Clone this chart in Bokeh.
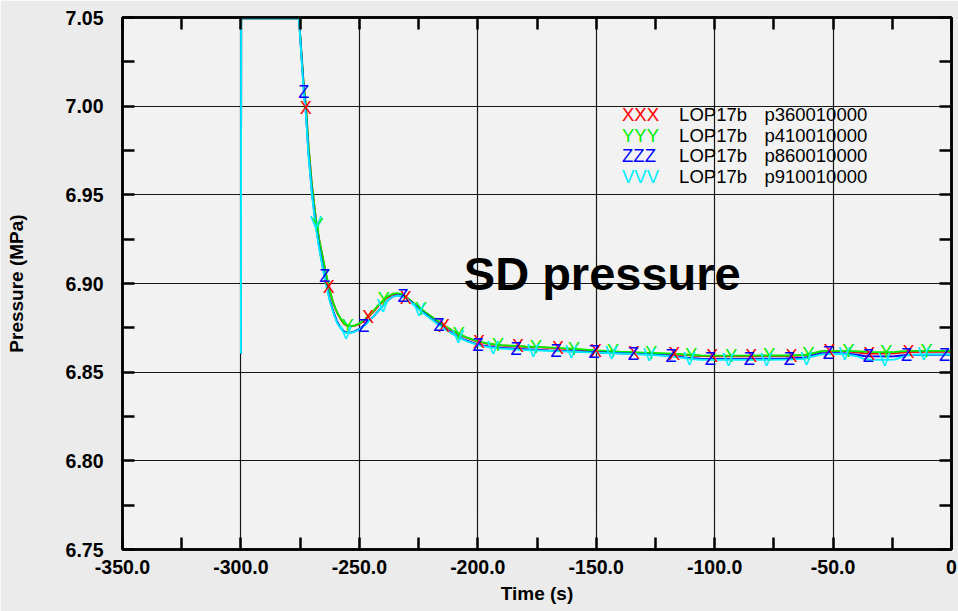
from bokeh.plotting import figure
from bokeh.models import (LinearAxis, FixedTicker, CustomJSTickFormatter,
                          ColumnDataSource, Label)
from bokeh.core.properties import value
from bokeh.embed import file_html
from bokeh.resources import INLINE

# ---------------- data ----------------
time_s = [-300.0, -299.9, -275.5, -273.5, -272.5, -271.5, -270.0, -268.5, -267.0, -265.5,
          -264.0, -262.5, -261.0, -259.5, -258.0, -256.5, -255.0, -253.5, -252.0, -250.0,
          -248.0, -246.0, -244.0, -242.0, -240.0, -238.0, -236.0, -234.0, -232.0, -230.0,
          -228.0, -226.0, -224.0, -222.0, -220.0, -217.0, -214.0, -211.0, -208.0, -205.0,
          -202.0, -199.0, -195.0, -190.0, -180.0, -170.0, -160.0, -150.0, -140.0, -130.0,
          -120.0, -112.0, -106.0, -100.0, -90.0, -80.0, -70.0, -62.0, -58.0, -55.0,
          -50.0, -45.0, -40.0, -37.0, -34.0, -30.0, -24.0, -21.0, -18.0, -10.0, 0.0]

p_360 = [6.8605, 7.0495, 7.0495, 7.012, 6.999, 6.978, 6.955, 6.938, 6.925, 6.915,
         6.905, 6.896, 6.889, 6.8838, 6.8802, 6.8772, 6.8760, 6.8758, 6.8761, 6.8772,
         6.8790, 6.8814, 6.8842, 6.8872, 6.8899, 6.8922, 6.8936, 6.8940, 6.8935, 6.8920,
         6.8898, 6.8876, 6.8855, 6.8835, 6.8816, 6.8788, 6.8760, 6.8736, 6.8714, 6.8696,
         6.8681, 6.8669, 6.8657, 6.8650, 6.8643, 6.8637, 6.8629, 6.8619, 6.8612, 6.8607,
         6.8602, 6.8597, 6.8591, 6.8590, 6.8590, 6.8591, 6.8591, 6.8595, 6.8606, 6.8616,
         6.8618, 6.8617, 6.8612, 6.8607, 6.8605, 6.8605, 6.8606, 6.8610, 6.8614, 6.8615, 6.8615]

p_410 = [6.8605, 7.0495, 7.0495, 7.012, 6.999, 6.978, 6.955, 6.938, 6.925, 6.915,
         6.905, 6.896, 6.889, 6.8840, 6.8805, 6.8775, 6.8763, 6.8760, 6.8763, 6.8775,
         6.8793, 6.8818, 6.8847, 6.8878, 6.8905, 6.8928, 6.8942, 6.8946, 6.8940, 6.8922,
         6.8900, 6.8878, 6.8857, 6.8837, 6.8818, 6.8790, 6.8762, 6.8738, 6.8716, 6.8698,
         6.8683, 6.8671, 6.8660, 6.8652, 6.8645, 6.8640, 6.8632, 6.8622, 6.8615, 6.8610,
         6.8605, 6.8600, 6.8594, 6.8593, 6.8593, 6.8594, 6.8594, 6.8597, 6.8608, 6.8618,
         6.8620, 6.8620, 6.8618, 6.8616, 6.8614, 6.8613, 6.8614, 6.8617, 6.8620, 6.8620, 6.8620]

p_860 = [6.8605, 7.0495, 7.0495, 7.010, 6.995, 6.974, 6.951, 6.934, 6.921, 6.910,
         6.900, 6.891, 6.8843, 6.8788, 6.8752, 6.8730, 6.8723, 6.8724, 6.8730, 6.8745,
         6.8764, 6.8788, 6.8815, 6.8845, 6.8875, 6.8904, 6.8925, 6.8934, 6.8930, 6.8915,
         6.8894, 6.8870, 6.8847, 6.8826, 6.8806, 6.8776, 6.8749, 6.8722, 6.8699, 6.8680,
         6.8665, 6.8653, 6.8644, 6.8637, 6.8629, 6.8623, 6.8618, 6.8612, 6.8607, 6.8602,
         6.8594, 6.8582, 6.8576, 6.8575, 6.8575, 6.8576, 6.8577, 6.8581, 6.8596, 6.8606,
         6.8608, 6.8606, 6.8598, 6.8591, 6.8589, 6.8589, 6.8590, 6.8594, 6.8597, 6.8598, 6.8598]

p_910 = [6.8605, 7.0495, 7.0495, 7.008, 6.994, 6.973, 6.950, 6.933, 6.920, 6.909,
         6.899, 6.890, 6.8835, 6.8780, 6.8747, 6.8725, 6.8720, 6.8722, 6.8728, 6.8742,
         6.8762, 6.8787, 6.8815, 6.8845, 6.8875, 6.8905, 6.8925, 6.8932, 6.8928, 6.8912,
         6.8890, 6.8866, 6.8843, 6.8822, 6.8802, 6.8772, 6.8745, 6.8718, 6.8695, 6.8677,
         6.8662, 6.8650, 6.8640, 6.8633, 6.8625, 6.8620, 6.8615, 6.8610, 6.8605, 6.8600,
         6.8592, 6.8578, 6.8570, 6.8570, 6.8570, 6.8570, 6.8571, 6.8575, 6.8590, 6.8600,
         6.8604, 6.8602, 6.8590, 6.8575, 6.8570, 6.8570, 6.8571, 6.8585, 6.8598, 6.8600, 6.8600]

# marker positions (letter symbols)
mk_t_360 = [-272.6, -262.9, -246.4, -230.4, -214.3, -199.5, -183.0, -166.1, -150.1,
            -134.0, -117.1, -101.0, -84.5, -67.6, -51.6, -34.7, -18.2]
mk_p_360 = [6.999, 6.898, 6.881, 6.892, 6.876, 6.867, 6.8645, 6.8635, 6.8619,
            6.8610, 6.8601, 6.8590, 6.8590, 6.8591, 6.8618, 6.8605, 6.8614]

mk_t_410 = [-267.6, -254.9, -239.7, -224.0, -208.0, -191.5, -175.4, -159.4, -142.9,
            -126.8, -109.9, -93.0, -76.9, -60.4, -43.5, -27.5, -10.6]
mk_p_410 = [6.933, 6.8763, 6.891, 6.8857, 6.8716, 6.8654, 6.8642, 6.8632, 6.8617,
            6.8608, 6.8598, 6.8593, 6.8594, 6.8602, 6.8619, 6.8613, 6.8620]

mk_t_860 = [-273.5, -264.6, -248.1, -231.6, -216.4, -199.9, -183.9, -167.0, -150.9,
            -134.4, -118.4, -101.9, -85.4, -68.5, -52.0, -35.1, -19.0, -3.0]
mk_p_860 = [7.008, 6.904, 6.876, 6.8928, 6.8765, 6.8655, 6.8628, 6.8619, 6.8612,
            6.8603, 6.8592, 6.8575, 6.8575, 6.8577, 6.8607, 6.8589, 6.8596, 6.8598]

mk_t_910 = [-268.4, -255.7, -240.1, -224.9, -208.4, -193.6, -176.7, -160.6, -143.7,
            -127.7, -110.7, -94.3, -78.2, -61.3, -45.2, -28.3, -11.8]
mk_p_910 = [6.934, 6.8721, 6.8874, 6.8853, 6.8698, 6.8637, 6.8621, 6.8615, 6.8607,
            6.8599, 6.8577, 6.8570, 6.8570, 6.8576, 6.8602, 6.8570, 6.8600]

series_symbols = ["X", "Y", "Z", "V"]
legend_symbols = ["XXX", "YYY", "ZZZ", "VVV"]
legend_case = ["LOP17b", "LOP17b", "LOP17b", "LOP17b"]
legend_probe = ["p360010000", "p410010000", "p860010000", "p910010000"]
series_colors = ["#ff0000", "#00ee00", "#0000ff", "#00eeff"]

x_major_ticks = [-350, -300, -250, -200, -150, -100, -50, 0]
x_minor_ticks = [-325, -275, -225, -175, -125, -75, -25]
y_major_ticks = [6.75, 6.80, 6.85, 6.90, 6.95, 7.00, 7.05]
y_minor_ticks = [6.775, 6.825, 6.875, 6.925, 6.975, 7.025]
chart_title = "SD pressure"

# ---------------- figure ----------------
FONT = "Liberation Sans"
p = figure(width=958, height=611, x_range=(-350, 0), y_range=(6.75, 7.05),
           output_backend="svg", toolbar_location=None,
           min_border_left=122, min_border_right=7, min_border_top=17, min_border_bottom=62)
p.border_fill_color = "#ebebeb"
p.background_fill_color = "#f2f2f2"
p.outline_line_color = "black"
p.outline_line_width = 2.5

xt = FixedTicker(ticks=x_major_ticks, minor_ticks=x_minor_ticks)
yt = FixedTicker(ticks=y_major_ticks, minor_ticks=y_minor_ticks)
xfmt = CustomJSTickFormatter(code="return Math.abs(tick) < 1e-9 ? '0' : tick.toFixed(1);")
yfmt = CustomJSTickFormatter(code="return tick.toFixed(2);")


def style_axis(ax, labels=True):
    ax.axis_line_color = "black"
    ax.axis_line_width = 2.5
    ax.major_tick_in = 12
    ax.major_tick_out = 0
    ax.minor_tick_in = 12
    ax.minor_tick_out = 0
    ax.major_tick_line_color = "black"
    ax.major_tick_line_width = 2.5
    ax.minor_tick_line_color = "black"
    ax.minor_tick_line_width = 2.5
    ax.major_label_text_font = FONT
    ax.major_label_text_font_style = "bold"
    ax.major_label_text_font_size = "19.5px"
    ax.major_label_text_color = "black"
    ax.axis_label_text_font = FONT
    ax.axis_label_text_font_style = "bold"
    ax.axis_label_text_font_size = "19px"
    ax.axis_label_text_color = "black"
    if not labels:
        ax.major_label_text_font_size = "0px"
        ax.major_label_standoff = 0
        ax.axis_label = None


bx = p.xaxis[0]
bx.ticker = xt
bx.formatter = xfmt
bx.axis_label = "Time (s)"
style_axis(bx)
bx.major_label_standoff = 10
bx.axis_label_standoff = 6

ly = p.yaxis[0]
ly.ticker = yt
ly.formatter = yfmt
ly.axis_label = "Pressure (MPa)"
style_axis(ly)
ly.major_label_standoff = 19
ly.axis_label_standoff = 36

tx = LinearAxis(ticker=xt)
style_axis(tx, labels=False)
p.add_layout(tx, "above")
ry = LinearAxis(ticker=yt)
style_axis(ry, labels=False)
p.add_layout(ry, "right")

p.xgrid.ticker = xt
p.ygrid.ticker = yt
for g in (p.xgrid, p.ygrid):
    g.grid_line_color = "black"
    g.grid_line_width = 1.2
    g.grid_line_alpha = 0.9

# ---------------- curves ----------------
curves = [p_360, p_410, p_860, p_910]
markers = [(mk_t_360, mk_p_360), (mk_t_410, mk_p_410), (mk_t_860, mk_p_860), (mk_t_910, mk_p_910)]

for vals, col in zip(curves, series_colors):
    p.line(time_s, vals, line_color=col, line_width=1.9)

for (mt, mp), sym, col in zip(markers, series_symbols, series_colors):
    src = ColumnDataSource(dict(x=mt, y=mp, t=[sym] * len(mt)))
    p.text(x="x", y="y", text="t", source=src, text_color=col,
           text_font=value(FONT), text_font_size=value("18px"),
           text_align="center", text_baseline="middle")

# ---------------- legend (text rows) ----------------
leg_x = [-139.1, -115.0, -79.0]
leg_y0 = 6.9954
leg_dy = 0.01173
rows_y = [leg_y0 - i * leg_dy for i in range(len(legend_symbols))]
p.text(x=[leg_x[0]] * 4, y=rows_y, text=legend_symbols, text_color=series_colors,
       text_font=value(FONT), text_font_size=value("18.5px"), text_baseline="alphabetic")
p.text(x=[leg_x[1]] * 4, y=rows_y, text=legend_case, text_color="black",
       text_font=value(FONT), text_font_size=value("18.5px"), text_baseline="alphabetic")
p.text(x=[leg_x[2]] * 4, y=rows_y, text=legend_probe, text_color="black",
       text_font=value(FONT), text_font_size=value("18.5px"), text_baseline="alphabetic")

p.add_layout(Label(x=-205.9, y=6.9056, text=chart_title, text_font=FONT,
                   text_font_size="47px", text_font_style="bold", text_color="black",
                   text_baseline="alphabetic"))

open("out.html", "w").write(file_html(p, INLINE))
